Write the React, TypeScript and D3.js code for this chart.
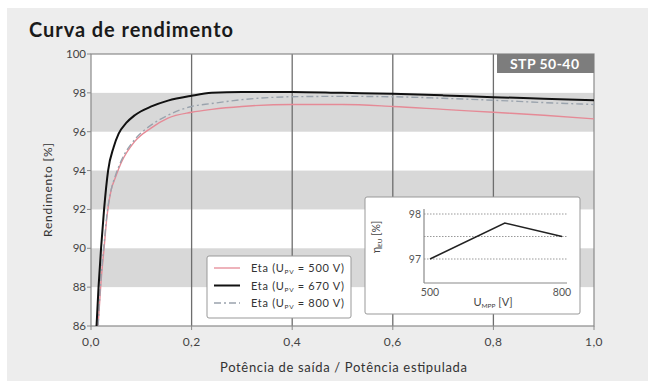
import React from "react";
import * as d3 from "d3";

const loads = [0.011, 0.015, 0.02, 0.026, 0.034, 0.045, 0.055, 0.07, 0.087, 0.12, 0.153, 0.2, 0.24, 0.3, 0.4, 0.5, 0.6, 0.7, 0.8, 0.9, 1.0];
const eta670 = [86.0, 88.0, 90.0, 92.0, 94.0, 95.2, 95.9, 96.45, 96.85, 97.3, 97.6, 97.85, 98.0, 98.05, 98.05, 98.0, 97.95, 97.87, 97.78, 97.7, 97.62];
const loadsLow = [0.014, 0.02, 0.026, 0.032, 0.04, 0.048, 0.06, 0.087, 0.12, 0.153, 0.2, 0.24, 0.3, 0.4, 0.5, 0.6, 0.7, 0.8, 0.9, 1.0];
const eta500 = [86.0, 88.3, 90.0, 91.7, 93.0, 93.6, 94.4, 95.5, 96.2, 96.7, 97.0, 97.15, 97.3, 97.4, 97.4, 97.3, 97.15, 97.0, 96.85, 96.66];
const eta800 = [86.0, 88.5, 90.2, 91.8, 93.0, 93.7, 94.5, 95.6, 96.35, 96.85, 97.3, 97.45, 97.65, 97.8, 97.82, 97.8, 97.72, 97.62, 97.5, 97.4];

const xTicks = [0, 0.2, 0.4, 0.6, 0.8, 1.0];
const yTicks = [86, 88, 90, 92, 94, 96, 98, 100];
const grayBands = [[96, 98], [92, 94], [88, 90]];
const legendLabels = ["500", "670", "800"];

const euVoltages = [500, 670, 800];
const euEta = [97.0, 97.8, 97.5];
const euYTicks = [97, 98];
const euGrid = [97, 97.5, 98];
const euXTicks = [500, 800];

const FONT = "Lato, 'Open Sans', sans-serif";

export default function App() {
  const x = d3.scaleLinear().domain([0, 1]).range([91, 594]);
  const y = d3.scaleLinear().domain([86, 100]).range([326, 54]);

  const line = d3.line<[number, number]>().x(d => x(d[0])).y(d => y(d[1])).curve(d3.curveMonotoneX);
  const p670 = line(loads.map((l, i) => [l, eta670[i]]));
  const p500 = line(loadsLow.map((l, i) => [l, eta500[i]]));
  const p800 = line(loadsLow.map((l, i) => [l, eta800[i]]));

  const ix = d3.scaleLinear().domain([500, 800]).range([430, 562]);
  const iy = d3.scaleLinear().domain([97, 98]).range([259, 214]);
  const iline = d3.line<[number, number]>().x(d => ix(d[0])).y(d => iy(d[1]));
  const pEu = iline(euVoltages.map((v, i) => [v, euEta[i]]));

  const legendStyles = [
    { stroke: "#e89aa4", width: 1.5, dash: "" },
    { stroke: "#111", width: 2, dash: "" },
    { stroke: "#9aa3ad", width: 1.3, dash: "7,3,2,3" },
  ];

  return (
    <svg width={652} height={383} style={{ position: "absolute", left: 0, top: 0 }} fontFamily={FONT}>
      <rect x={0} y={0} width={652} height={383} fill="#fff" />
      <rect x={7} y={8} width={641} height={373} fill="#ededed" />
      <text x={29} y={37} fontSize={20} fontWeight={700} fill="#1a1a1a" textLength={204} lengthAdjust="spacing">Curva de rendimento</text>

      {/* plot area */}
      <rect x={x(0)} y={y(100)} width={x(1) - x(0)} height={y(86) - y(100)} fill="#fff" />
      {grayBands.map(([a, b], i) => (
        <rect key={i} x={x(0)} y={y(b)} width={x(1) - x(0)} height={y(a) - y(b)} fill="#d8d8d8" />
      ))}
      {xTicks.slice(1, -1).map(t => (
        <line key={t} x1={x(t)} x2={x(t)} y1={y(100)} y2={y(86)} stroke="#6e6e6e" strokeWidth={1.3} />
      ))}
      <rect x={x(0)} y={y(100)} width={x(1) - x(0)} height={y(86) - y(100)} fill="none" stroke="#8a8a8a" strokeWidth={1.2} />

      {/* y ticks */}
      {yTicks.map(t => (
        <g key={t}>
          <line x1={x(0) - 4} x2={x(0)} y1={y(t)} y2={y(t)} stroke="#8a8a8a" />
          <text x={x(0) - 5} y={y(t) + 4} fontSize={11.5} textAnchor="end" fill="#444">{t}</text>
        </g>
      ))}
      {xTicks.map(t => (
        <g key={t}>
          <line x1={x(t)} x2={x(t)} y1={y(86)} y2={y(86) + 4} stroke="#8a8a8a" />
          <text x={x(t)} y={y(86) + 20} fontSize={12} textAnchor="middle" fill="#444" letterSpacing={0.4}>{t.toFixed(1).replace(".", ",")}</text>
        </g>
      ))}
      <text transform={`translate(52,${(y(86) + y(100)) / 2}) rotate(-90)`} fontSize={12} textAnchor="middle" fill="#333" textLength={94} lengthAdjust="spacing">Rendimento [%]</text>
      <text x={220} y={372} fontSize={13} fill="#333" textLength={247} lengthAdjust="spacing">Potência de saída / Potência estipulada</text>

      {/* curves */}
      <defs>
        <clipPath id="plotclip">
          <rect x={x(0)} y={y(100)} width={x(1) - x(0)} height={y(86) - y(100)} />
        </clipPath>
      </defs>
      <g clipPath="url(#plotclip)">
        <path d={p500 ?? ""} fill="none" stroke="#e58a96" strokeWidth={1.4} />
        <path d={p800 ?? ""} fill="none" stroke="#9aa3ad" strokeWidth={1.4} strokeDasharray="7,3,2,3" />
        <path d={p670 ?? ""} fill="none" stroke="#111" strokeWidth={2} />
      </g>

      {/* STP label */}
      <rect x={497} y={y(100)} width={x(1) - 497} height={19} fill="#7d7d7d" />
      <text x={510} y={y(100) + 15} fontSize={14} fontWeight={700} fill="#fff" textLength={69} lengthAdjust="spacing">STP 50-40</text>

      {/* legend */}
      <rect x={207} y={256} width={144} height={62} rx={2} fill="#fff" stroke="#999" strokeWidth={1} />
      {legendLabels.map((v, i) => {
        const ly = 268 + i * 17.5;
        const s = legendStyles[i];
        return (
          <g key={v}>
            <line x1={214} x2={240} y1={ly} y2={ly} stroke={s.stroke} strokeWidth={s.width} strokeDasharray={s.dash} />
            <text x={251} y={ly + 4} fontSize={11} fill="#333" letterSpacing={0.7}>
              Eta (U<tspan fontSize={6.5} dy={2}>PV</tspan><tspan dy={-2}> = {v} V)</tspan>
            </text>
          </g>
        );
      })}

      {/* inset */}
      <rect x={365} y={197} width={215} height={117} rx={2} fill="#fff" stroke="#999" strokeWidth={1} />
      {euGrid.map(g => (
        <line key={g} x1={424} x2={568} y1={iy(g)} y2={iy(g)} stroke="#999" strokeWidth={1} strokeDasharray="1.5,1.5" />
      ))}
      <line x1={424} x2={424} y1={209} y2={283} stroke="#8a8a8a" strokeWidth={1.2} />
      <line x1={424} x2={567} y1={283} y2={283} stroke="#8a8a8a" strokeWidth={1.2} />
      <path d={pEu ?? ""} fill="none" stroke="#222" strokeWidth={1.6} />
      {euYTicks.map(t => (
        <text key={t} x={421} y={iy(t) + 4} fontSize={10.5} textAnchor="end" fill="#555">{t}</text>
      ))}
      {euXTicks.map(t => (
        <text key={t} x={ix(t)} y={296} fontSize={10.5} textAnchor="middle" fill="#555">{t}</text>
      ))}
      <text transform={`translate(380,237) rotate(-90)`} fontSize={10.5} textAnchor="middle" fill="#444">
        η<tspan fontSize={6.5} dy={2}>EU</tspan><tspan dy={-2}> [%]</tspan>
      </text>
      <text x={493} y={306} fontSize={11} textAnchor="middle" fill="#444">
        U<tspan fontSize={6.5} dy={2}>MPP</tspan><tspan dy={-2}> [V]</tspan>
      </text>
    </svg>
  );
}
